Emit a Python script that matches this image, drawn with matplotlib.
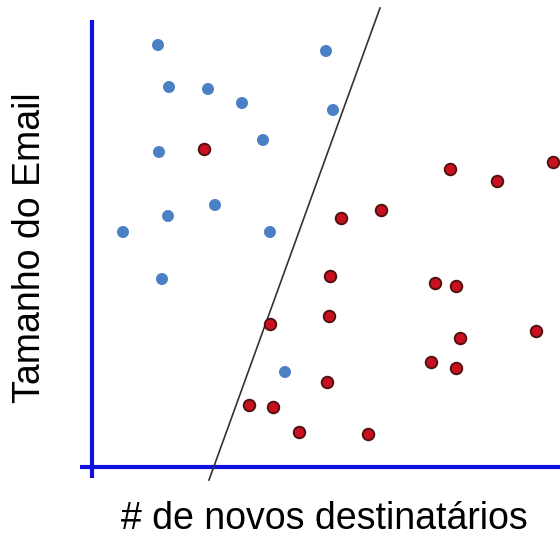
import matplotlib.pyplot as plt

# point positions (origin at the axis crossing)
blue_x = [66, 234, 77, 116, 150, 241, 171, 67, 76, 123, 31, 178, 70, 193]
blue_y = [422, 416, 380, 378, 364, 357, 327, 315, 251, 262, 235, 235, 188, 95]

red_x = [112, 358, 461, 405, 249, 289, 238, 343, 364, 237, 178, 368, 444, 339, 364,
         235, 157, 181, 207, 276]
red_y = [318, 298, 305, 286, 249, 257, 191, 184, 181, 151, 143, 129, 136, 105, 99,
         85, 62, 60, 35, 33]

# separating line
line_x = [117, 288]
line_y = [-13, 459]

# axis lines
vaxis_x = [0, 0]
vaxis_y = [-11, 447]
haxis_x = [-12, 468]
haxis_y = [0, 0]


def main():
    plt.rcParams['font.family'] = ['Liberation Sans', 'DejaVu Sans']
    fig = plt.figure(figsize=(5.6, 5.38), dpi=100)
    ax = fig.add_axes([0, 0, 1, 1])
    ax.set_xlim(-92, 468)
    ax.set_ylim(-71, 467)
    ax.axis('off')

    ax.plot(vaxis_x, vaxis_y, color='#1010e0', lw=3, solid_capstyle='butt')
    ax.plot(haxis_x, haxis_y, color='#1010e0', lw=3, solid_capstyle='butt')
    ax.plot(line_x, line_y, color='#333333', lw=1.2)

    ax.scatter(blue_x, blue_y, s=75, color='#4c80c4', edgecolors='none', zorder=3)
    ax.scatter(red_x, red_y, s=70, color='#c8101e', edgecolors='#4a1010',
               linewidths=1.3, zorder=3)

    fig.text(324 / 560, 1 - 529 / 538, '# de novos destinatários',
             ha='center', va='baseline', fontsize=27)
    fig.text(30 / 560, 1 - 248 / 538, 'Tamanho do Email', rotation=90,
             ha='center', va='center', fontsize=27)

    fig.savefig('out.png', dpi=100)


if __name__ == "__main__":
    main()
